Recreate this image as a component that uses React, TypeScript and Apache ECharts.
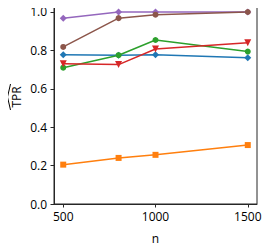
import React, { useEffect, useRef } from "react";
import * as echarts from "echarts";

const nValues = [500, 800, 1000, 1500];
const xTicks = [500, 1000, 1500];
const yTicks = [0, 0.2, 0.4, 0.6, 0.8, 1.0];

const blueVals = [0.777, 0.775, 0.777, 0.762];
const orangeVals = [0.205, 0.24, 0.256, 0.307];
const greenVals = [0.71, 0.775, 0.854, 0.794];
const redVals = [0.731, 0.726, 0.807, 0.84];
const purpleVals = [0.968, 1.0, 1.0, 1.0];
const brownVals = [0.818, 0.968, 0.986, 1.0];

const seriesDefs = [
  { name: "blue", color: "#1f77b4", symbol: "diamond", rotate: 0, size: 7, vals: blueVals },
  { name: "orange", color: "#ff7f0e", symbol: "rect", rotate: 0, size: 6, vals: orangeVals },
  { name: "green", color: "#2ca02c", symbol: "circle", rotate: 0, size: 6, vals: greenVals },
  { name: "red", color: "#d62728", symbol: "triangle", rotate: 180, size: 7, vals: redVals },
  { name: "purple", color: "#9467bd", symbol: "diamond", rotate: 0, size: 7, vals: purpleVals },
  { name: "brown", color: "#8c564b", symbol: "circle", rotate: 0, size: 6, vals: brownVals },
];

const FONT = "Open Sans";
const FS = 12;

export default function App() {
  const ref = useRef<HTMLDivElement>(null);
  useEffect(() => {
    if (!ref.current) return;
    const chart = echarts.init(ref.current, undefined, { renderer: "svg" });
    chart.setOption({
      animation: false,
      grid: {
        left: 54,
        right: 17,
        top: 7,
        bottom: 46,
        show: true,
        borderColor: "#262626",
        borderWidth: 1,
        backgroundColor: "transparent",
      },
      xAxis: {
        type: "value",
        min: 450,
        max: 1550,
        name: "n",
        nameLocation: "middle",
        nameGap: 28,
        nameTextStyle: { fontFamily: FONT, fontSize: FS, color: "#000" },
        axisLine: { show: true, lineStyle: { color: "#262626", width: 1 } },
        axisTick: { show: true, inside: false, length: 3.5, customValues: xTicks, lineStyle: { color: "#262626" } },
        axisLabel: {
          customValues: xTicks,
          fontFamily: FONT,
          fontSize: FS,
          color: "#000",
          margin: 6,
          formatter: (v: number) => String(v),
        },
        splitLine: { show: false },
      },
      yAxis: {
        type: "value",
        min: 0,
        max: 1.026,
        axisLine: { show: true, lineStyle: { color: "#262626", width: 1 } },
        axisTick: { show: true, inside: false, length: 3.5, customValues: yTicks, lineStyle: { color: "#262626" } },
        axisLabel: {
          customValues: yTicks,
          fontFamily: FONT,
          fontSize: FS,
          color: "#000",
          margin: 7,
          formatter: (v: number) => v.toFixed(1),
        },
        splitLine: { show: false },
      },
      graphic: [
        {
          type: "text",
          x: 16,
          y: 97,
          rotation: Math.PI / 2,
          style: {
            text: "TPR",
            fontFamily: FONT,
            fontSize: FS,
            fill: "#000",
            align: "center",
            verticalAlign: "middle",
          },
        },
        {
          type: "polyline",
          x: 9,
          y: 97,
          shape: { points: [[1.5, -13], [-1.5, 0], [1.5, 13]] },
          style: { stroke: "#000", lineWidth: 1 },
        },
      ],
      series: seriesDefs.map((s) => ({
        name: s.name,
        type: "line",
        data: nValues.map((n, i) => [n, s.vals[i]]),
        symbol: s.symbol,
        symbolSize: s.size,
        symbolRotate: s.rotate,
        showSymbol: true,
        lineStyle: { color: s.color, width: 1.5 },
        itemStyle: { color: s.color, borderWidth: 0 },
        clip: false,
      })),
    });
    return () => chart.dispose();
  }, []);
  return <div ref={ref} style={{ width: 274, height: 250, marginLeft: -8, marginTop: -8 }} />;
}
